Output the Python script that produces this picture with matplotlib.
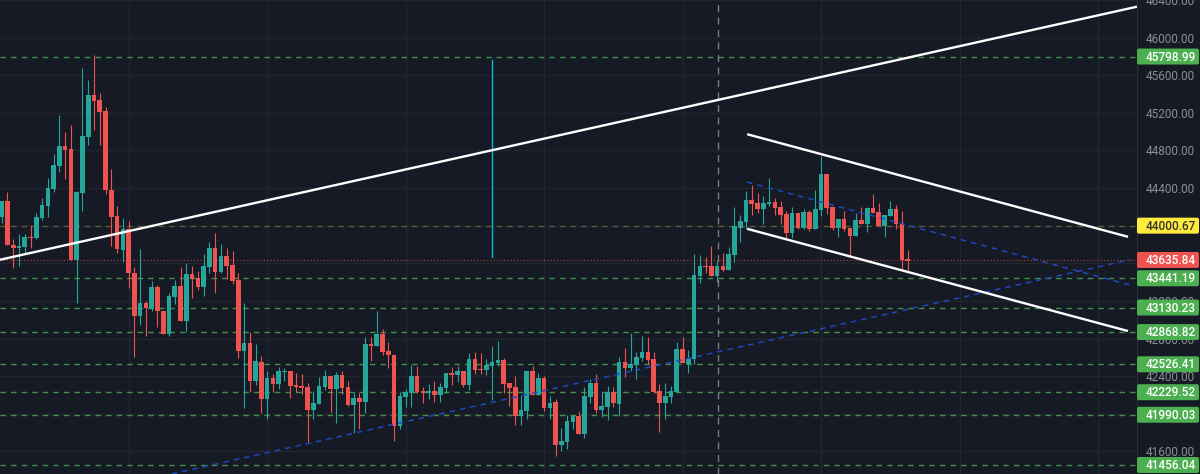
import matplotlib
matplotlib.use('Agg')
import matplotlib.pyplot as plt
from matplotlib.patches import FancyBboxPatch
from matplotlib.transforms import IdentityTransform
import numpy as np

opens = [44094,44263,43797,43765,43776,43882,43871,44083,44210,44391,44634,44846,44814,43638,44348,44941,45386,45333,45217,44380,
         44104,43744,43967,43501,43035,43183,43119,43352,43098,42844,43246,43363,42992,43490,43448,43352,43564,43765,43511,43681,
         43585,43427,42664,42749,42346,42547,42155,42378,42314,42441,42452,42304,42293,42282,42039,42102,42282,42399,42261,42410,
         42282,42092,42166,42123,42738,42717,42844,42664,42621,41869,42176,42219,42399,42240,42219,42240,42198,42272,42431,42410,
         42452,42304,42579,42473,42463,42505,42537,42568,42325,42282,41975,42028,42452,42198,42378,42060,42123,41668,41700,41912,
         41975,41785,42176,42325,42039,42070,42229,42102,42547,42484,42515,42590,42653,42579,42240,42113,42176,42229,42685,42526,
         42579,43469,43575,43575,43469,43575,43532,43691,43977,44041,44274,44242,44179,44231,44253,44200,44125,43924,44136,43977,
         44147,43967,44168,44549,44200,43977,44073,43977,43893,44062,44020,44189,44147,43998,44104,44179,44030,43649]
highs = [44263,44359,43861,43914,43914,44009,44136,44295,44507,44761,45174,44994,45068,44369,45672,45545,45820,45407,45259,44602,
         44210,44083,44051,43564,43755,43204,43416,43373,43098,43289,43427,43564,43607,43575,43522,43702,43829,43924,43808,43765,
         43734,43501,43183,42865,42738,42611,42452,42420,42494,42484,42452,42431,42420,42325,42240,42388,42463,42399,42441,42452,
         42346,42229,42219,42812,42812,43088,42897,42759,42621,42229,42261,42515,42505,42282,42314,42346,42325,42431,42494,42505,
         42452,42643,42653,42643,42579,42717,42770,42590,42325,42399,42187,42452,42505,42431,42399,42187,42155,41848,41986,41986,
         42028,42282,42367,42420,42229,42293,42282,42600,42696,42855,42653,42823,42812,42653,42314,42325,42293,42759,42812,42674,
         43702,43691,43670,43787,43628,43712,43776,44200,44115,44369,44433,44348,44316,44507,44295,44263,44157,44200,44136,44179,
         44168,44380,44740,44549,44200,44073,44157,43977,44136,44200,44200,44337,44242,44115,44263,44221,44157,43744]
lows = [44030,43797,43554,43575,43712,43765,43861,44062,44094,44359,44571,44496,43638,43183,44157,44857,45015,44857,44337,43787,
        43712,43617,43342,42600,42939,42823,43088,42918,42844,42823,43172,42992,42865,43236,43320,43257,43501,43289,43501,43437,
        43384,42590,42060,42229,42304,42007,41943,42229,42261,42346,42166,42229,42208,41700,41943,42102,42251,42007,41901,42208,
        42081,41795,41838,42007,42558,42717,42621,42484,41711,41838,42070,42070,42219,42113,42155,42123,42123,42219,42304,42335,
        42282,42251,42420,42420,42410,42145,42505,42219,42081,41880,41880,41943,42198,42198,42028,41943,41551,41604,41626,41838,
        41785,41742,42113,42007,41965,41933,42070,41975,42388,42452,42367,42558,42526,42219,41806,41943,42113,42229,42537,42431,
        42526,43395,43501,43469,43405,43522,43532,43617,43829,43967,44115,44136,44020,44210,44115,44020,43861,43871,43967,43967,
        43946,43967,44104,44125,43956,43882,43946,43681,43893,44020,43935,44136,43998,43882,44104,43967,43532,43511]
closes = [44263,43797,43765,43787,43882,43871,44094,44221,44401,44645,44846,44804,43638,44359,44952,45386,45323,45206,44380,44094,
          43755,43967,43501,43035,43183,43130,43352,43088,42844,43257,43363,42992,43490,43437,43352,43575,43765,43511,43681,43575,
          43416,42664,42749,42346,42558,42155,42378,42314,42452,42452,42293,42282,42272,42039,42113,42293,42399,42261,42410,42272,
          42092,42166,42123,42738,42717,42844,42653,42621,41869,42187,42229,42399,42229,42219,42240,42198,42282,42431,42410,42452,
          42304,42579,42463,42463,42515,42547,42568,42314,42272,41975,42039,42452,42198,42378,42060,42113,41668,41711,41922,41975,
          41785,42187,42325,42039,42081,42229,42113,42547,42484,42526,42600,42653,42568,42229,42113,42187,42240,42685,42537,42590,
          43479,43575,43564,43469,43575,43532,43702,43998,44051,44274,44231,44179,44242,44253,44189,44115,43924,44136,43977,44147,
          43967,44179,44549,44189,43977,44073,43967,43893,44062,44020,44189,44136,43998,44115,44179,44020,43638,43628]

# price levels, last one of the green list is the bottom level
green_levels = [45798.99, 43441.19, 43130.23, 42868.82, 42526.41, 42229.52, 41990.03, 41456.04]
yellow_level = 44000.67
last_price = 43635.84
price_ticks = [41600, 42000, 42400, 42800, 43200, 43600, 44000, 44400, 44800, 45200, 45600, 46000, 46400]
# these scale labels sit fully under a price tag in the screenshot
hidden_ticks = [42000, 43600, 44000]
time_grid = [22, 46, 70, 94, 118, 142, 166, 190]

# trend lines as (bar, price) ends
rising_x, rising_y = [-0.3, 196.76], [43638, 46329]
upper_x, upper_y = [129.2, 195.2], [44973, 43882]
lower_x, lower_y = [129.2, 195.2], [43967, 42880]
blue_down_x, blue_down_y = [129.2, 195.5], [44464, 43370]
blue_up_x, blue_up_y = [29.5, 195.5], [41361, 43638]
teal_x, teal_y = [85, 85], [45757, 43670]
cross_x = 124.1

BG = '#161a25'
UP = '#26a69a'
DOWN = '#ef5350'
GRID = '#21252f'
TEXT = '#8b8e97'
FONT = 'Roboto'

W, H = 1200, 474
fig = plt.figure(figsize=(W/100, H/100), dpi=100, facecolor=BG)
ax = fig.add_axes([0, 0, 1137/W, 1], facecolor=BG)
ax.set_xlim(-0.295, 196.76)
ax.set_ylim(41360, 46381.6)

ax.set_xticks(time_grid)
ax.set_yticks(price_ticks)
ax.grid(True, color=GRID, lw=1)
ax.set_axisbelow(True)
ax.tick_params(axis='x', length=0, labelbottom=False)
ax.yaxis.tick_right()
ax.tick_params(axis='y', length=0, pad=6.5, labelcolor=TEXT, labelsize=8.5)
ax.set_yticklabels(['' if t in hidden_ticks else '%.2f' % t for t in price_ticks], family=FONT)
for s in ['top', 'left', 'bottom']:
    ax.spines[s].set_visible(False)
ax.spines['right'].set_color('#2a2e39')

# levels
for lv in green_levels:
    ax.axhline(lv, color='#4caf50', lw=1, ls=(0, (4, 3.6)), alpha=0.8, zorder=1)
ax.axhline(yellow_level, color='#5c5a32', lw=1, ls=(0, (4, 3.6)), zorder=1)

# candles
x = np.arange(len(opens))
o, h, l, c = map(np.array, (opens, highs, lows, closes))
up = c >= o
colors = np.where(up, UP, DOWN)
ax.vlines(x, l, h, colors=colors, lw=0.8, zorder=2)
ax.bar(x, np.abs(c-o), bottom=np.minimum(o, c), width=0.8, color=colors, lw=0, zorder=3)

ax.axvline(cross_x, color='#787b86', lw=1, ls=(0, (5, 4)), zorder=4)
ax.axhline(last_price, color=DOWN, lw=0.8, ls=(0, (1, 2)), alpha=0.75, zorder=4)

# drawings
ax.plot(blue_down_x, blue_down_y, color='#1f48bd', lw=1.1, ls=(0, (3.6, 3.3)), zorder=5)
ax.plot(blue_up_x, blue_up_y, color='#1f48bd', lw=1.1, ls=(0, (3.6, 3.3)), zorder=5)
for lx, ly in [(rising_x, rising_y), (upper_x, upper_y), (lower_x, lower_y)]:
    ax.plot(lx, ly, color='white', lw=1.7, zorder=6, solid_capstyle='butt')
ax.plot(teal_x, teal_y, color='#00bcd4', lw=1, zorder=5)

# price tags on the scale
def tag(price, fc, tc):
    ypx = ax.transData.transform((0, price))[1]
    box = FancyBboxPatch((1139, ypx-6), 58, 12, boxstyle='round,pad=2', fc=fc, ec='none',
                         transform=IdentityTransform(), zorder=5)
    fig.add_artist(box)
    fig.text(1146, ypx-0.5, '%.2f' % price, color=tc, fontsize=8.5, family=FONT, fontweight='medium',
             va='center', ha='left', transform=IdentityTransform(), zorder=6)

for lv in green_levels:
    tag(lv, '#4caf50', 'white')
tag(yellow_level, '#ffeb3b', '#333333')
tag(last_price, DOWN, 'white')

fig.savefig('out.png', dpi=100, facecolor=BG)
